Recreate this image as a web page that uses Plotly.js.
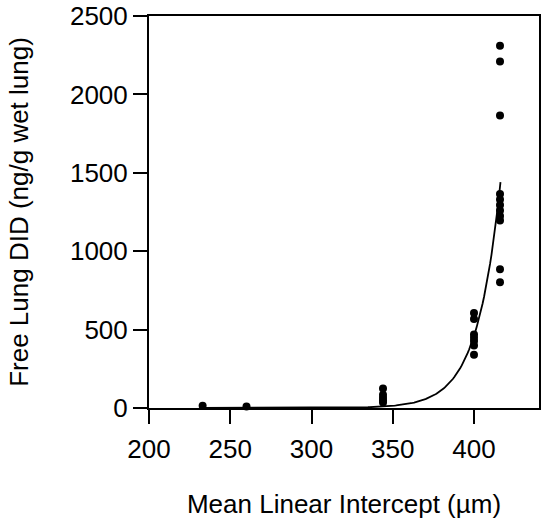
<!DOCTYPE html>
<html>
<head>
<meta charset="utf-8">
<script src="https://cdn.plot.ly/plotly-3.0.1.min.js"></script>
<style>html,body{margin:0;padding:0;background:#fff;}#chart{width:550px;height:527px;}</style>
</head>
<body>
<div id="chart"></div>
<script>
// Observed data: mean linear intercept (µm) vs free lung DID (ng/g wet lung)
var mliValues = [233, 260,
  344, 344, 344, 344, 344,
  400, 400, 400, 400, 400, 400, 400,
  416, 416, 416, 416, 416, 416, 416, 416, 416, 416, 416];
var didValues = [15, 10,
  125, 85, 65, 50, 35,
  606, 568, 468, 448, 428, 398, 340,
  2310, 2210, 1865, 1365, 1330, 1295, 1260, 1225, 1195, 885, 802];

// Exponential growth fit parameters
var fitRefX = 416.3;
var fitRefY = 1440;
var fitRate = 0.07;

var xTickVals = [200, 250, 300, 350, 400];
var yTickVals = [0, 500, 1000, 1500, 2000, 2500];

var xMin = Math.min.apply(null, mliValues);
var xMax = fitRefX;
var curveX = [], curveY = [];
for (var i = 0; i <= 200; i++) {
  var x = xMin + (xMax - xMin) * i / 200;
  curveX.push(x);
  curveY.push(fitRefY * Math.exp(fitRate * (x - fitRefX)));
}

var fontFam = '"Liberation Sans", Arial, Helvetica, sans-serif';
var fs = 26;

var traces = [
  {x: curveX, y: curveY, type: 'scatter', mode: 'lines',
   line: {color: '#000', width: 1.8}, hoverinfo: 'skip', cliponaxis: true},
  {x: mliValues, y: didValues, type: 'scatter', mode: 'markers',
   marker: {color: '#000', size: 8}, cliponaxis: false}
];

var layout = {
  width: 550, height: 527,
  margin: {l: 149, r: 11, t: 16, b: 118.5},
  paper_bgcolor: '#fff', plot_bgcolor: '#fff',
  showlegend: false,
  font: {family: fontFam, size: fs, color: '#000'},
  xaxis: {
    range: [200, 440], tickvals: xTickVals, ticktext: xTickVals.map(String),
    ticks: 'outside', ticklen: 14, tickwidth: 2, tickcolor: '#000',
    ticklabelstandoff: 3,
    showline: true, linecolor: '#000', linewidth: 2, mirror: true,
    showgrid: false, zeroline: false,
    tickfont: {family: fontFam, size: fs, color: '#000'},
    title: {text: 'Mean Linear Intercept (µm)', font: {family: fontFam, size: fs, color: '#000'}, standoff: 32}
  },
  yaxis: {
    range: [0, 2500], tickvals: yTickVals, ticktext: yTickVals.map(String),
    ticks: 'outside', ticklen: 14, tickwidth: 2, tickcolor: '#000',
    showline: true, linecolor: '#000', linewidth: 2, mirror: true,
    showgrid: false, zeroline: false,
    tickfont: {family: fontFam, size: fs, color: '#000'},
    title: {text: 'Free Lung DID (ng/g wet lung)', font: {family: fontFam, size: fs, color: '#000'}, standoff: 34}
  }
};

Plotly.newPlot('chart', traces, layout, {displayModeBar: false, staticPlot: true});
</script>
</body>
</html>
